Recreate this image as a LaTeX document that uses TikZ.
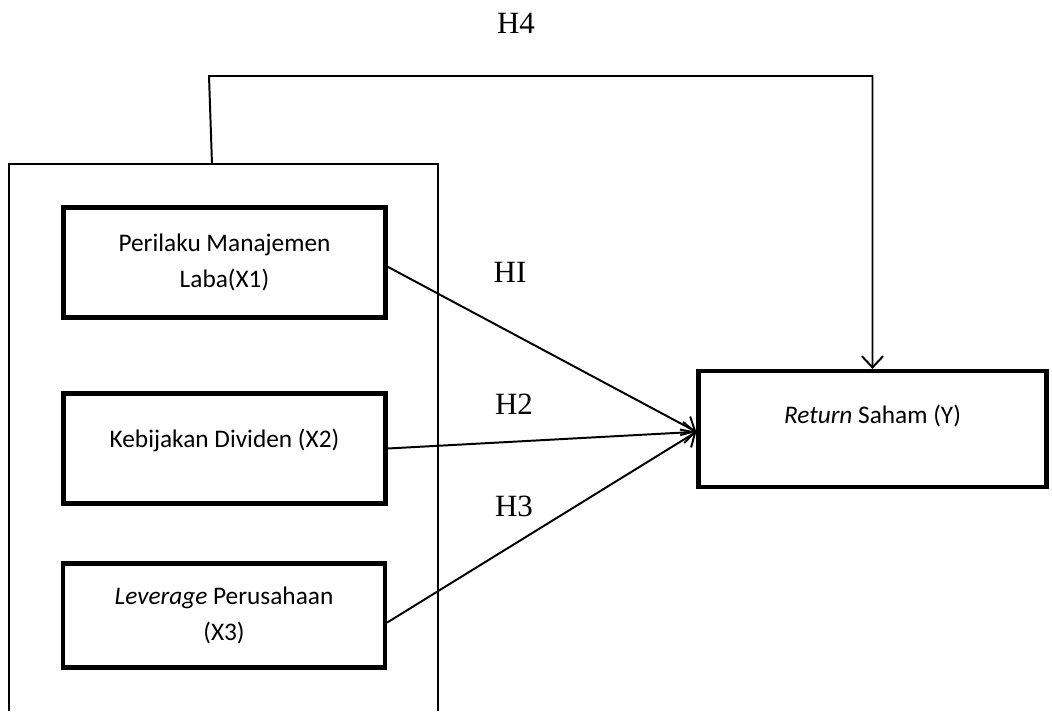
\documentclass[tikz,border=0pt]{standalone}
\usepackage{fontspec}
\setmainfont{Carlito}
\newfontfamily\hypfont{Liberation Serif}
\usetikzlibrary{arrows.meta}

\begin{document}
\begin{tikzpicture}[x=0.025cm, y=-0.025cm,
	varbox/.style={draw, line width=3pt, minimum width=8.05cm, minimum height=2.75cm, align=center, font=\fontsize{18}{26}\selectfont},
	hyp/.style={font=\hypfont\fontsize{22}{24}\selectfont},
	link/.style={line width=1.4pt, -{Straight Barb[length=8pt, width=15pt, line width=1.4pt]}}]
	\useasboundingbox (0,0) rectangle (1052,711);
	% independent variables inside the group box
	\draw[line width=1pt] (9,711) -- (9,164) -- (438,164) -- (438,711);
	\node[varbox] (x1) at (224.5,262.5) {Perilaku Manajemen\\Laba(X1)};
	\node[varbox, text depth=14pt] (x2) at (224.5,448.5) {Kebijakan Dividen (X2)};
	\node[varbox, minimum height=2.6cm] (x3) at (224,615.5) {\textit{Leverage} Perusahaan\\(X3)};
	% dependent variable
	\node[varbox, minimum width=8.7cm, minimum height=2.9cm, text depth=21pt] (y) at (872.5,429) {\textit{Return} Saham (Y)};
	% simultaneous path
	\coordinate (grp) at (212,164);
	\coordinate (bend) at (209,76);
	\draw[link] (grp) -- (bend) -| (y.north);
	% partial paths
	\draw[link] ([yshift=-3pt]x1.east) -- ([yshift=-2pt]y.west);
	\draw[link] (x2.east) -- ([yshift=-2pt]y.west);
	\draw[link] ([yshift=-5pt]x3.east) -- ([yshift=-2pt]y.west);
	\node[hyp] (h4) at (516,23) {H4};
	\node[hyp] (h1) at (510,272) {HI};
	\node[hyp] (h2) at (514,404) {H2};
	\node[hyp] (h3) at (514,506) {H3};
\end{tikzpicture}
\end{document}
